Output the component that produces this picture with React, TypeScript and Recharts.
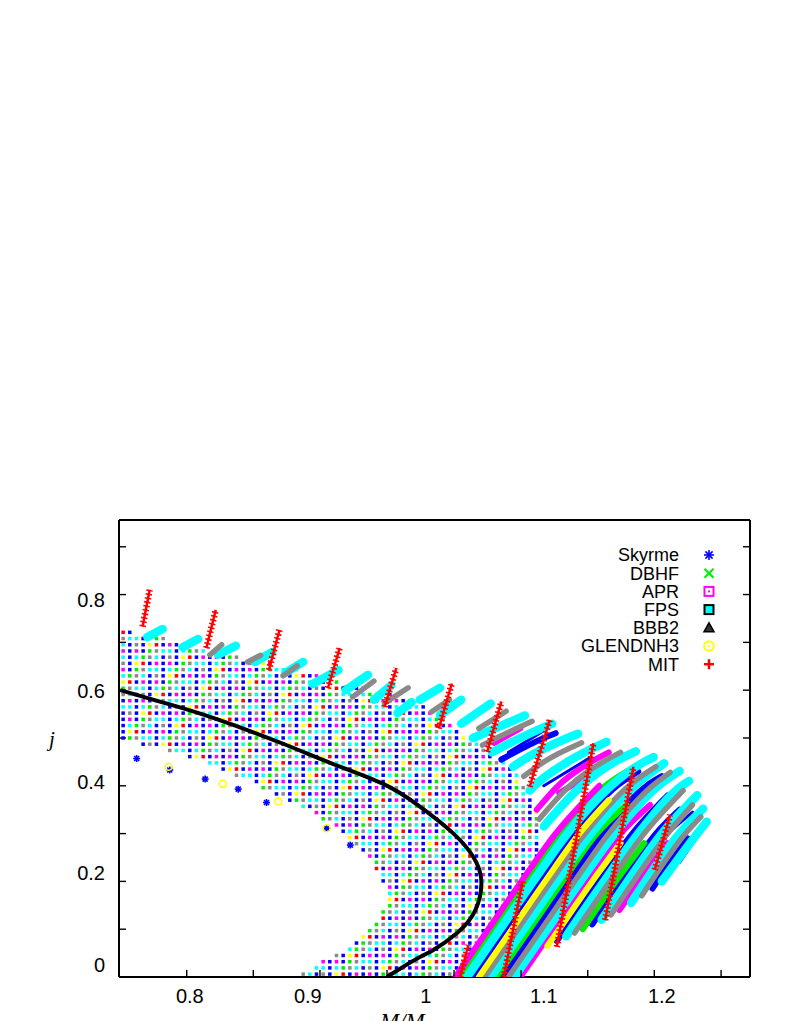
import { Legend, Scatter, ScatterChart, XAxis, YAxis } from "recharts";

type Pair = [number, number];

const FONT = "'Liberation Sans', Arial, Helvetica, sans-serif";
const SERIF = "'Liberation Serif', 'Times New Roman', serif";

// axes: labels and inward tick marks sit on different spacings in the original figure
const X_LABEL_TICKS = [0.8, 0.9, 1, 1.1, 1.2];
const X_MARK_TICKS = [0.7974, 0.8538, 0.9103, 0.9671, 1.0239, 1.0807, 1.1372, 1.1936, 1.2502];
const Y_LABEL_TICKS = [0, 0.2, 0.4, 0.6, 0.8];
const Y_MARK_TICKS = [0.1, 0.2, 0.3, 0.4, 0.5, 0.6, 0.7, 0.8, 0.9];

const SERIES = [
  { key: "skyrme", label: "Skyrme", color: "#0000ff" },
  { key: "dbhf", label: "DBHF", color: "#00ee00" },
  { key: "apr", label: "APR", color: "#ff00ff" },
  { key: "fps", label: "FPS", color: "#00ffff" },
  { key: "bbb2", label: "BBB2", color: "#8a8a8a" },
  { key: "glen", label: "GLENDNH3", color: "#ffff00" },
  { key: "mit", label: "MIT", color: "#ff0000" }
] as const;

// uniform-sampling grid: one row per j, with the M range it covers
const GRID_M0 = 0.7435;
const GRID_DM = 0.00565;
const GRID_ROWS: [number, number, number][] = [
  [0.006, 0.894, 1.025], [0.019, 0.903, 1.03], [0.032, 0.913, 1.035], [0.045, 0.922, 1.04],
  [0.058, 0.931, 1.045], [0.071, 0.937, 1.05], [0.084, 0.943, 1.054], [0.097, 0.949, 1.059],
  [0.11, 0.954, 1.063], [0.123, 0.96, 1.068], [0.136, 0.963, 1.072], [0.149, 0.965, 1.076],
  [0.162, 0.966, 1.08], [0.175, 0.966, 1.084], [0.188, 0.964, 1.088], [0.201, 0.963, 1.091],
  [0.214, 0.96, 1.093], [0.227, 0.957, 1.096], [0.24, 0.953, 1.098], [0.253, 0.949, 1.098],
  [0.266, 0.944, 1.099], [0.279, 0.939, 1.099], [0.292, 0.935, 1.099], [0.305, 0.929, 1.099],
  [0.318, 0.921, 1.098], [0.331, 0.913, 1.096], [0.344, 0.906, 1.094], [0.357, 0.895, 1.093],
  [0.37, 0.884, 1.091], [0.383, 0.873, 1.088], [0.396, 0.862, 1.085], [0.409, 0.851, 1.082],
  [0.422, 0.839, 1.079], [0.435, 0.826, 1.073], [0.448, 0.812, 1.066], [0.461, 0.8, 1.058],
  [0.474, 0.781, 1.052], [0.487, 0.757, 1.045], [0.5, 0.742, 1.037], [0.513, 0.742, 1.03],
  [0.526, 0.742, 1.022], [0.539, 0.742, 1.015], [0.552, 0.742, 1.007], [0.565, 0.742, 0.999],
  [0.578, 0.742, 0.991], [0.591, 0.742, 0.971], [0.604, 0.742, 0.949], [0.617, 0.742, 0.928],
  [0.63, 0.742, 0.91], [0.643, 0.742, 0.891], [0.656, 0.742, 0.87], [0.669, 0.742, 0.84],
  [0.682, 0.742, 0.813], [0.695, 0.742, 0.798], [0.708, 0.742, 0.778], [0.721, 0.742, 0.75]
];
// which EOS ends up visible in a grid cell
const GRID_PATTERN = "BCKBMGBCYBKCBRMCGKB";
const GRID_CODES: Record<string, string> = {
  B: "skyrme", G: "dbhf", M: "apr", C: "fps", K: "bbb2", Y: "glen", R: "mit"
};

const SKYRME_EDGE: Pair[] = [
  [0.755, 0.457], [0.783, 0.433], [0.813, 0.414], [0.841, 0.393], [0.865, 0.365], [0.916, 0.311], [0.936, 0.276]
];
const GLEN_EDGE: Pair[] = [[0.782, 0.44], [0.828, 0.404], [0.875, 0.367], [0.916, 0.311]];

const SKYRME_TRACKS: Pair[][] = [
  [[1.04, 0], [1.068, 0.1], [1.096, 0.2], [1.125, 0.3], [1.162, 0.4], [1.18, 0.43]],
  [[1.065, 0], [1.093, 0.1], [1.121, 0.2], [1.15, 0.3], [1.187, 0.4], [1.2, 0.42]],
  [[1.111, 0.075], [1.118, 0.1], [1.146, 0.2], [1.175, 0.3], [1.205, 0.38]],
  [[1.141, 0.11], [1.166, 0.2], [1.195, 0.3], [1.215, 0.35]],
  [[1.192, 0.185], [1.196, 0.2], [1.222, 0.29]],
  [[1.064, 0.455], [1.1, 0.5], [1.11, 0.51]]
];
// thin, scattered Skyrme sequences along the outer tracks
const SKYRME_FUZZ: Pair[][] = [
  [[1.07, 0.47], [1.1, 0.515]],
  [[1.1, 0.4], [1.14, 0.46]],
  [[1.13, 0.35], [1.17, 0.42]],
  [[1.165, 0.33], [1.2, 0.4]],
  [[1.2, 0.29], [1.226, 0.345]],
  [[1.215, 0.24], [1.232, 0.3]],
  [[0.93, 0.605], [0.945, 0.618]]
];
const DBHF_TRACKS: Pair[][] = [
  [[1.03, 0], [1.058, 0.1], [1.086, 0.2], [1.115, 0.3], [1.152, 0.4], [1.17, 0.43]],
  [[1.06, 0], [1.088, 0.1], [1.116, 0.2], [1.145, 0.3], [1.17, 0.36]],
  [[1.133, 0.1], [1.161, 0.2], [1.185, 0.28]]
];
const APR_TRACKS: Pair[][] = [
  [[1.025, 0], [1.053, 0.1], [1.081, 0.2], [1.11, 0.3], [1.147, 0.4]],
  [[1.08, 0], [1.108, 0.1], [1.136, 0.2], [1.165, 0.3], [1.19, 0.36]],
  [[1.164, 0.14], [1.181, 0.2], [1.205, 0.28]],
  [[1.094, 0.35], [1.112, 0.4], [1.14, 0.45], [1.155, 0.47]],
  [[1.058, 0.49], [1.08, 0.52]],
  [[1.113, 0.385], [1.14, 0.425]]
];
const FPS_TRACKS: Pair[][] = [
  [[1.035, 0], [1.063, 0.1], [1.091, 0.2], [1.12, 0.3], [1.157, 0.4], [1.185, 0.45], [1.193, 0.46]],
  [[1.055, 0], [1.083, 0.1], [1.111, 0.2], [1.14, 0.3], [1.177, 0.4], [1.202, 0.447]],
  [[1.075, 0], [1.103, 0.1], [1.131, 0.2], [1.16, 0.3], [1.197, 0.4], [1.215, 0.431]],
  [[1.119, 0.085], [1.123, 0.1], [1.151, 0.2], [1.18, 0.3], [1.217, 0.4], [1.223, 0.41]],
  [[1.149, 0.12], [1.171, 0.2], [1.2, 0.3], [1.23, 0.38]],
  [[1.174, 0.155], [1.186, 0.2], [1.215, 0.3], [1.235, 0.352]],
  [[1.2, 0.2], [1.23, 0.3], [1.238, 0.325]],
  [[1.04, 0.5], [1.084, 0.547]],
  [[1.056, 0.47], [1.08, 0.5], [1.107, 0.53]],
  [[1.074, 0.44], [1.08, 0.45], [1.12, 0.5], [1.129, 0.509]],
  [[1.088, 0.39], [1.092, 0.4], [1.12, 0.45], [1.153, 0.492]],
  [[1.1, 0.315], [1.132, 0.4], [1.16, 0.45], [1.178, 0.472]],
  [[1.03, 0.53], [1.055, 0.572]],
  [[0.764, 0.711], [0.777, 0.728]],
  [[0.794, 0.69], [0.807, 0.707]],
  [[0.824, 0.674], [0.839, 0.693]],
  [[0.855, 0.659], [0.87, 0.68]],
  [[0.881, 0.636], [0.896, 0.659]],
  [[0.904, 0.613], [0.926, 0.642]],
  [[0.932, 0.6], [0.951, 0.632]],
  [[0.956, 0.58], [0.971, 0.611]],
  [[0.976, 0.552], [0.988, 0.575]],
  [[0.995, 0.58], [1.012, 0.605]],
  [[1.012, 0.548], [1.03, 0.58]]
];
const BBB2_TRACKS: Pair[][] = [
  [[1.05, 0], [1.078, 0.1], [1.106, 0.2], [1.135, 0.3], [1.172, 0.4], [1.195, 0.44]],
  [[1.07, 0], [1.098, 0.1], [1.126, 0.2], [1.155, 0.3], [1.192, 0.4], [1.207, 0.428]],
  [[1.126, 0.092], [1.156, 0.2], [1.185, 0.3], [1.218, 0.39]],
  [[1.157, 0.13], [1.176, 0.2], [1.205, 0.3], [1.226, 0.36]],
  [[1.183, 0.17], [1.191, 0.2], [1.22, 0.3], [1.233, 0.335]],
  [[1.048, 0.485], [1.06, 0.5], [1.09, 0.535]],
  [[1.083, 0.42], [1.1, 0.45], [1.132, 0.49]],
  [[1.096, 0.33], [1.122, 0.4], [1.15, 0.45], [1.165, 0.47]],
  [[1.045, 0.52], [1.068, 0.556]],
  [[0.817, 0.674], [0.827, 0.695]],
  [[0.849, 0.659], [0.86, 0.673]],
  [[0.879, 0.63], [0.891, 0.651]],
  [[0.938, 0.586], [0.956, 0.619]],
  [[0.965, 0.573], [0.985, 0.605]],
  [[1.005, 0.555], [1.02, 0.58]]
];
const GLEN_TRACKS: Pair[][] = [
  [[1.045, 0], [1.073, 0.1], [1.101, 0.2], [1.13, 0.3], [1.155, 0.37]],
  [[1.103, 0.065], [1.113, 0.1], [1.141, 0.2], [1.165, 0.28]]
];
const MIT_TRACKS: Pair[][] = [
  [[0.76, 0.733], [0.766, 0.81]],
  [[0.814, 0.688], [0.822, 0.768]],
  [[0.867, 0.642], [0.876, 0.726]],
  [[0.917, 0.604], [0.927, 0.688]],
  [[0.965, 0.565], [0.975, 0.646]],
  [[1.011, 0.52], [1.022, 0.614]],
  [[1.052, 0.471], [1.064, 0.576]],
  [[1.088, 0.398], [1.105, 0.538]],
  [[1.111, 0.063], [1.142, 0.489]],
  [[1.152, 0.119], [1.176, 0.44]],
  [[1.194, 0.224], [1.207, 0.339]],
  [[1.066, 0.0], [1.082, 0.2]],
  [[1.029, 0.0], [1.036, 0.067]]
];

const STABILITY_CURVE: Pair[] = [
  [0.741, 0.6], [0.779, 0.573], [0.821, 0.541], [0.878, 0.489], [0.92, 0.447], [0.963, 0.405],
  [0.993, 0.36], [1.023, 0.301], [1.04, 0.252], [1.047, 0.203], [1.042, 0.14], [1.026, 0.091],
  [1.006, 0.056], [0.993, 0.039], [0.967, 0.0]
];

const TRACKS: { key: string; tracks: Pair[][]; width: number }[] = [
  { key: "skyrme", tracks: SKYRME_TRACKS, width: 6 },
  { key: "skyrme", tracks: SKYRME_FUZZ, width: 3 },
  { key: "dbhf", tracks: DBHF_TRACKS, width: 6 },
  { key: "apr", tracks: APR_TRACKS, width: 6 },
  { key: "fps", tracks: FPS_TRACKS, width: 8.5 },
  { key: "bbb2", tracks: BBB2_TRACKS, width: 5.5 },
  { key: "glen", tracks: GLEN_TRACKS, width: 6 }
];

const colorOf = (key: string) => SERIES.find((s) => s.key === key)?.color ?? "#000";
const toPoints = (pairs: Pair[]) => pairs.map(([m, j]) => ({ m, j }));

function buildGrid() {
  const out: Record<string, { m: number; j: number }[]> = {};
  SERIES.forEach((s) => (out[s.key] = []));
  GRID_ROWS.forEach(([j, from, to], r) => {
    for (let c = 0; GRID_M0 + c * GRID_DM <= to; c++) {
      const m = GRID_M0 + c * GRID_DM;
      if (m < from) continue;
      const code = GRID_PATTERN[(c * 5 + r * 3) % GRID_PATTERN.length];
      out[GRID_CODES[code]].push({ m, j });
    }
  });
  return out;
}

const gridPoints = buildGrid();

const noShape = () => <g />;
const noLabel = () => <g />;

function Asterisk({ cx, cy, color, r = 4 }: { cx: number; cy: number; color: string; r?: number }) {
  const d = r * 0.72;
  return (
    <g stroke={color} strokeWidth={1.6}>
      <line x1={cx - r} y1={cy} x2={cx + r} y2={cy} />
      <line x1={cx} y1={cy - r} x2={cx} y2={cy + r} />
      <line x1={cx - d} y1={cy - d} x2={cx + d} y2={cy + d} />
      <line x1={cx - d} y1={cy + d} x2={cx + d} y2={cy - d} />
    </g>
  );
}

function LegendGlyph({ kind, x, y, color }: { kind: string; x: number; y: number; color: string }) {
  switch (kind) {
    case "skyrme":
      return <Asterisk cx={x} cy={y} color={color} r={5} />;
    case "dbhf":
      return (
        <g stroke={color} strokeWidth={2.2}>
          <line x1={x - 4.5} y1={y - 4.5} x2={x + 4.5} y2={y + 4.5} />
          <line x1={x - 4.5} y1={y + 4.5} x2={x + 4.5} y2={y - 4.5} />
        </g>
      );
    case "apr":
      return (
        <g>
          <rect x={x - 4.5} y={y - 4.5} width={9} height={9} fill="none" stroke={color} strokeWidth={2} />
          <rect x={x - 1} y={y - 1} width={2} height={2} fill={color} />
        </g>
      );
    case "fps":
      return <rect x={x - 4.5} y={y - 4.5} width={9} height={9} fill={color} stroke="#000" strokeWidth={2} />;
    case "bbb2":
      return <path d={`M${x - 5},${y + 4} L${x + 5},${y + 4} L${x},${y - 5} Z`} fill="#333" stroke="#000" strokeWidth={1.5} />;
    case "glen":
      return (
        <g>
          <circle cx={x} cy={y} r={4.8} fill="none" stroke={color} strokeWidth={2} />
          <circle cx={x} cy={y} r={1} fill={color} />
        </g>
      );
    default:
      return (
        <g stroke={color} strokeWidth={2.5}>
          <line x1={x - 5} y1={y} x2={x + 5} y2={y} />
          <line x1={x} y1={y - 5} x2={x} y2={y + 5} />
        </g>
      );
  }
}

function LegendBox() {
  return (
    <svg width={180} height={135} style={{ overflow: "visible" }}>
      {SERIES.map((s, i) => {
        const cy = 12 + i * 18.2;
        return (
          <g key={s.key}>
            <text x={119} y={cy} dy={6.4} textAnchor="end" fontSize={18} fontFamily={FONT} fill="#000">
              {s.label}
            </text>
            <LegendGlyph kind={s.key} x={149} y={cy} color={s.color} />
          </g>
        );
      })}
    </svg>
  );
}

// bottom axis carries both the number labels and the (differently spaced) inward marks;
// tickSize/tickMargin are 0, so y here is the axis line itself
function XBottomTick({ x, y, payload }: { x?: number; y?: number; payload?: { value: number } }) {
  const v = payload?.value ?? 0;
  const ax = y ?? 0;
  if (X_MARK_TICKS.includes(v)) {
    return <line x1={x} x2={x} y1={ax} y2={ax - 7} stroke="#000" strokeWidth={1.4} />;
  }
  return (
    <text x={x} y={ax + 26} textAnchor="middle" fontSize={20} fontFamily={FONT} fill="#000">
      {String(v)}
    </text>
  );
}

function YLabelTick({ y, payload }: { y?: number; payload?: { value: number } }) {
  return (
    <text x={105} y={y} dy={7} textAnchor="end" fontSize={20} fontFamily={FONT} fill="#000">
      {String(payload?.value)}
    </text>
  );
}

const frame = { stroke: "#000", strokeWidth: 2 };
const tickMark = { stroke: "#000", strokeWidth: 1.4 };

export default function App() {
  return (
    <div style={{ position: "absolute", left: 0, top: 0, width: 789, height: 1021, background: "#fff", overflow: "hidden" }}>
      <ScatterChart width={789} height={1021} margin={{ top: 520, right: 39, bottom: 14, left: 59 }}>
        <XAxis
          xAxisId="m"
          type="number"
          dataKey="m"
          domain={[0.74, 1.2747]}
          allowDataOverflow
          ticks={[...X_LABEL_TICKS, ...X_MARK_TICKS]}
          interval={0}
          tickLine={false}
          tickSize={0}
          tickMargin={0}
          axisLine={frame}
          height={30}
          tick={<XBottomTick />}
          label={() => (
            <text x={380} y={1029} fontSize={23} fontStyle="italic" fontFamily={SERIF} fill="#000">
              M/M<tspan dy={6} fontSize={15}>⊙</tspan>
            </text>
          )}
        />
        <XAxis xAxisId="mtop" orientation="top" type="number" domain={[0.74, 1.2747]} allowDataOverflow ticks={X_MARK_TICKS} interval={0} mirror tick={noLabel} tickSize={7} tickLine={tickMark} axisLine={frame} height={10} />
        <YAxis
          yAxisId="jl"
          type="number"
          domain={[-0.0274, 0.9759]}
          allowDataOverflow
          ticks={Y_LABEL_TICKS}
          interval={0}
          width={60}
          tickLine={false}
          axisLine={false}
          tick={<YLabelTick />}
          label={() => (
            <text x={49} y={746} fontSize={21} fontStyle="italic" fontFamily={SERIF} fill="#000">
              j
            </text>
          )}
        />
        <YAxis yAxisId="j" type="number" dataKey="j" domain={[0, 0.956]} allowDataOverflow ticks={Y_MARK_TICKS} interval={0} mirror tick={noLabel} tickSize={7} tickLine={tickMark} axisLine={frame} width={10} />
        <YAxis yAxisId="jr" orientation="right" type="number" domain={[0, 0.956]} allowDataOverflow ticks={Y_MARK_TICKS} interval={0} mirror tick={noLabel} tickSize={7} tickLine={tickMark} axisLine={frame} width={10} />

        <Scatter xAxisId="m" yAxisId="jl" data={[]} isAnimationActive={false} legendType="none" />
        <Scatter xAxisId="mtop" yAxisId="jr" data={[]} isAnimationActive={false} legendType="none" />

        {SERIES.map((s) => (
          <Scatter
            key={`grid-${s.key}`}
            xAxisId="m"
            yAxisId="j"
            data={gridPoints[s.key]}
            fill={s.color}
            isAnimationActive={false}
            legendType="none"
            shape={(p: { cx?: number; cy?: number }) => (
              <rect x={(p.cx ?? 0) - 1.75} y={(p.cy ?? 0) - 1.75} width={3.5} height={3.5} fill={s.color} />
            )}
          />
        ))}

        <Scatter
          xAxisId="m"
          yAxisId="j"
          data={toPoints(SKYRME_EDGE)}
          isAnimationActive={false}
          legendType="none"
          shape={(p: { cx?: number; cy?: number }) => <Asterisk cx={p.cx ?? 0} cy={p.cy ?? 0} color="#0000ff" r={3.5} />}
        />
        <Scatter
          xAxisId="m"
          yAxisId="j"
          data={toPoints(GLEN_EDGE)}
          isAnimationActive={false}
          legendType="none"
          shape={(p: { cx?: number; cy?: number }) => (
            <circle cx={p.cx} cy={p.cy} r={3.5} fill="none" stroke="#ffff00" strokeWidth={1.5} />
          )}
        />

        {TRACKS.flatMap((group, g) =>
          group.tracks.map((track, i) => (
            <Scatter
              key={`${group.key}-${g}-${i}`}
              xAxisId="m"
              yAxisId="j"
              data={toPoints(track)}
              line={{ stroke: colorOf(group.key), strokeWidth: group.width, strokeLinecap: "round" }}
              lineJointType="monotoneX"
              shape={noShape}
              isAnimationActive={false}
              legendType="none"
            />
          ))
        )}

        {MIT_TRACKS.flatMap((track, i) => [
          <Scatter
            key={`mit-core-${i}`}
            xAxisId="m"
            yAxisId="j"
            data={toPoints(track)}
            line={{ stroke: "#ff0000", strokeWidth: 2.5 }}
            shape={noShape}
            isAnimationActive={false}
            legendType="none"
          />,
          <Scatter
            key={`mit-bars-${i}`}
            xAxisId="m"
            yAxisId="j"
            data={toPoints(track)}
            line={{ stroke: "#ff0000", strokeWidth: 6.5, strokeDasharray: "1.6 2.4" }}
            shape={noShape}
            isAnimationActive={false}
            legendType="none"
          />
        ])}

        <Scatter
          xAxisId="m"
          yAxisId="j"
          data={toPoints(STABILITY_CURVE)}
          line={{ stroke: "#000", strokeWidth: 4 }}
          lineJointType="natural"
          shape={noShape}
          isAnimationActive={false}
          legendType="none"
        />

        <Legend
          layout="horizontal"
          verticalAlign="middle"
          align="center"
          content={() => <LegendBox />}
          wrapperStyle={{ left: 560, top: 543, width: 180, height: 135 }}
        />
      </ScatterChart>
    </div>
  );
}
